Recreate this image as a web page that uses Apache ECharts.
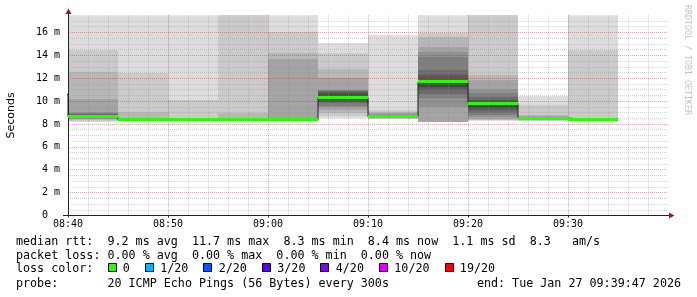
<!DOCTYPE html>
<html><head><meta charset="utf-8">
<script src="https://cdn.jsdelivr.net/npm/echarts@6/dist/echarts.min.js"></script>
<style>html,body{margin:0;padding:0;background:#fff}#c{width:697px;height:297px}</style>
</head><body><div id="c"></div>
<script>
// ---- data (time = minutes since midnight, values in ms) ----
const binStart = [515, 520, 525, 530, 535, 540, 545, 550, 555, 560, 565, 570];
const binMinutes = 5;
const median = [10.6, 8.62, 8.35, 8.35, 8.35, 8.35, 10.3, 8.63, 11.68, 9.8, 8.5, 8.38];
const lossIdx = [0, 0, 0, 0, 0, 0, 0, 0, 0, 0, 0, 0];
// 20 sorted ping times per 5-minute bin
const ping0835 = [8.4, 8.6, 8.9, 9.3, 9.7, 10.0, 10.2, 10.4, 10.5, 10.55, 10.65, 10.8, 11.0, 11.2, 11.5, 11.9, 12.3, 12.7, 14.4, 20.0];
const ping0840 = [8.2, 8.3, 8.35, 8.4, 8.45, 8.5, 8.55, 8.58, 8.6, 8.62, 8.65, 8.72, 8.8, 8.9, 9.0, 9.07, 10.15, 12.56, 14.45, 20.0];
const ping0845 = [8.25, 8.27, 8.28, 8.29, 8.3, 8.31, 8.32, 8.33, 8.34, 8.35, 8.36, 8.37, 8.38, 8.4, 8.42, 8.45, 8.49, 9.07, 12.5, 20.0];
const ping0850 = [8.25, 8.27, 8.28, 8.29, 8.3, 8.31, 8.32, 8.33, 8.34, 8.35, 8.36, 8.37, 8.38, 8.39, 8.4, 8.42, 8.45, 8.5, 10.1, 20.0];
const ping0855 = [8.25, 8.27, 8.28, 8.29, 8.3, 8.31, 8.32, 8.33, 8.34, 8.35, 8.36, 8.37, 8.38, 8.39, 8.4, 8.42, 8.5, 9.0, 19.0, 20.0];
const ping0900 = [8.25, 8.27, 8.28, 8.29, 8.3, 8.31, 8.32, 8.33, 8.34, 8.35, 8.36, 8.37, 8.38, 8.39, 8.4, 8.42, 13.67, 14.17, 16.05, 20.0];
const ping0905 = [8.49, 8.7, 8.93, 9.2, 9.45, 9.6, 9.8, 9.95, 10.1, 10.22, 10.45, 10.65, 10.8, 10.9, 10.94, 10.96, 11.98, 12.8, 14.2, 15.1];
const ping0910 = [8.4, 8.45, 8.48, 8.5, 8.52, 8.54, 8.56, 8.58, 8.6, 8.62, 8.65, 8.67, 8.69, 8.72, 8.78, 8.85, 8.95, 9.05, 9.2, 15.76];
const ping0915 = [8.15, 8.16, 8.18, 8.2, 9.5, 10.24, 10.6, 10.96, 11.2, 11.6, 11.75, 11.83, 12.27, 12.7, 13.87, 14.3, 14.74, 15.6, 15.97, 20.0];
const ping0920 = [8.3, 8.32, 8.34, 8.4, 8.6, 8.78, 9.0, 9.2, 9.4, 9.7, 9.85, 9.95, 10.1, 10.38, 10.67, 11.1, 11.83, 12.27, 19.0, 20.0];
const ping0925 = [8.28, 8.3, 8.33, 8.36, 8.4, 8.43, 8.46, 8.48, 8.49, 8.5, 8.52, 8.54, 8.56, 8.58, 8.6, 8.65, 8.7, 8.78, 9.65, 10.46];
const ping0930 = [8.28, 8.29, 8.3, 8.31, 8.32, 8.33, 8.34, 8.35, 8.36, 8.37, 8.38, 8.39, 8.4, 8.41, 8.42, 8.43, 8.44, 8.46, 14.5, 20.0];
const pings = [ping0835, ping0840, ping0845, ping0850, ping0855, ping0900, ping0905, ping0910, ping0915, ping0920, ping0925, ping0930];

const lossLabels = ['0', '1/20', '2/20', '3/20', '4/20', '10/20', '19/20'];
const lossColors = ['#26ff00', '#00b8ff', '#0059ff', '#5e00ff', '#7e00ff', '#dd00ff', '#ff0000'];
const rttStats = ['9.2', '11.7', '8.3', '8.4', '1.1', '8.3'];
const lossStats = ['0.00', '0.00', '0.00', '0.00'];
const probeText = '20 ICMP Echo Pings (56 Bytes) every 300s';
const endText = 'Tue Jan 27 09:39:47 2026';

// ---- layout ----
const G = {left: 68, right: 29, top: 15.3, bottom: 81.5};
const W = 697, H = 297;
const mono = 'DejaVu Sans Mono';
const minorGrid = {color: 'rgba(140,140,140,0.38)', type: [1, 1], width: 1};
const majorGrid = {color: 'rgba(150,30,30,0.38)', type: [1, 1], width: 1};

const smokeRects = [];
pings.forEach((p, b) => {
  const n = p.length, half = n / 2;
  for (let i = 0; i < half; i++) {
    smokeRects.push([binStart[b], binStart[b] + binMinutes, p[i], p[n - 1 - i], i, half]);
  }
});
const medianPts = binStart.map((t, i) => [t, median[i]]);
medianPts.push([binStart[binStart.length - 1] + binMinutes, median[median.length - 1]]);
const bandData = binStart.map((t, i) => [t, t + binMinutes, median[i], lossIdx[i]]);

function clipTo(params, x0, y0, x1, y1) {
  return echarts.graphic.clipRectByRect(
    {x: Math.round(x0), y: Math.round(y0), width: Math.round(x1) - Math.round(x0), height: Math.round(y1) - Math.round(y0)},
    {x: params.coordSys.x, y: params.coordSys.y, width: params.coordSys.width, height: params.coordSys.height});
}

const hhmm = v => String(Math.floor(v / 60)).padStart(2, '0') + ':' + String(v % 60).padStart(2, '0');

const chart = echarts.init(document.getElementById('c'), null, {renderer: 'canvas'});

const graphics = [];
const txt = (x, y, s, extra) => graphics.push(Object.assign({type: 'text', x: x, y: y,
  style: Object.assign({text: s, font: '11.7px "' + mono + '"', fill: '#000', textVerticalAlign: 'middle', verticalAlign: 'middle'}, extra || {})}));
const lineY = [241.8, 255.8, 269.2, 283.5];
txt(16, lineY[0], 'median rtt:  ' + rttStats[0] + ' ms avg  ' + rttStats[1] + ' ms max  ' + rttStats[2] + ' ms min  ' +
  rttStats[3] + ' ms now  ' + rttStats[4] + ' ms sd  ' + rttStats[5] + '   am/s');
txt(16, lineY[1], 'packet loss: ' + lossStats[0] + ' % avg  ' + lossStats[1] + ' % max  ' + lossStats[2] + ' % min  ' + lossStats[3] + ' % now');
txt(16, lineY[2], 'loss color:');
let lx = 107.5;
lossLabels.forEach((lab, i) => {
  graphics.push({type: 'rect', shape: {x: Math.round(lx) + 0.5, y: 263.5, width: 8, height: 8},
    style: {fill: lossColors[i], stroke: '#000', lineWidth: 1}});
  txt(lx + 15.3, lineY[2], lab);
  lx = lx + 15.3 + lab.length * 7.03 + 15.1;
});
txt(16, lineY[3], 'probe:       ' + probeText);
txt(681, lineY[3], 'end: ' + endText, {textAlign: 'right', align: 'right'});
// rrdtool watermark
graphics.push({type: 'text', x: 687.5, y: 60, rotation: -Math.PI / 2,
  style: {text: 'RRDTOOL / TOBI OETIKER', font: '8.3px "' + mono + '"', fill: '#c4c4c4', textAlign: 'center', align: 'center', textVerticalAlign: 'middle', verticalAlign: 'middle'}});
// axis arrows
const gx0 = G.left, gy0 = H - G.bottom, gx1 = W - G.right;
graphics.push({type: 'line', shape: {x1: gx0 + 0.5, y1: G.top, x2: gx0 + 0.5, y2: 12}, style: {stroke: '#222', lineWidth: 1}});
graphics.push({type: 'polygon', shape: {points: [[gx0 - 2.5, 14], [gx0 + 3.5, 14], [gx0 + 0.5, 8.5]]}, style: {fill: '#9b1c1c'}});
graphics.push({type: 'line', shape: {x1: gx1, y1: Math.floor(gy0) + 0.5, x2: gx1 + 2, y2: Math.floor(gy0) + 0.5}, style: {stroke: '#222', lineWidth: 1}});
graphics.push({type: 'polygon', shape: {points: [[gx1 + 1, gy0 - 3], [gx1 + 1, gy0 + 3], [gx1 + 6.5, gy0]]}, style: {fill: '#9b1c1c'}});
graphics.push({type: 'line', shape: {x1: gx0 - 5, y1: Math.floor(gy0) + 0.5, x2: gx0, y2: Math.floor(gy0) + 0.5}, style: {stroke: '#222', lineWidth: 1}});

chart.setOption({
  animation: false,
  backgroundColor: '#ffffff',
  grid: {left: G.left, right: G.right, top: G.top, bottom: G.bottom, containLabel: false, outerBoundsMode: 'none'},
  xAxis: {
    type: 'value', min: 520, max: 580, interval: 10, z: 3,
    axisLine: {show: true, onZero: false, lineStyle: {color: '#222', width: 1}},
    axisTick: {show: true, length: 2, inside: false, lineStyle: {color: '#222'}},
    minorTick: {show: false, splitNumber: 5},
    axisLabel: {formatter: v => hhmm(v), showMaxLabel: false, fontFamily: mono, fontSize: 10, color: '#000', margin: 4},
    splitLine: {show: true, showMinLine: false, showMaxLine: false, lineStyle: majorGrid},
    minorSplitLine: {show: true, lineStyle: minorGrid}
  },
  yAxis: {
    type: 'value', min: 0, max: 17.5, interval: 2, z: 3,
    name: 'Seconds', nameLocation: 'middle', nameRotate: 90, nameGap: 51,
    nameTextStyle: {fontFamily: 'DejaVu Sans', fontSize: 11, color: '#000'},
    axisLine: {show: true, lineStyle: {color: '#222', width: 1}},
    axisTick: {show: false},
    minorTick: {show: false, splitNumber: 4},
    axisLabel: {formatter: v => (v === 0 ? '0  ' : (v % 2 === 0 ? v + ' m' : '')), fontFamily: mono, fontSize: 10, color: '#000', margin: 8},
    splitLine: {show: true, showMinLine: false, showMaxLine: false, lineStyle: majorGrid},
    minorSplitLine: {show: true, lineStyle: minorGrid}
  },
  series: [
    {
      type: 'custom', name: 'smoke', z: 2, silent: true,
      encode: {x: [0, 1], y: [2, 3]},
      data: smokeRects,
      renderItem: (params, api) => {
        const a = api.coord([api.value(0), api.value(3)]);
        const b = api.coord([api.value(1), api.value(2)]);
        const shape = clipTo(params, a[0], a[1], b[0], b[1]);
        if (!shape || shape.width <= 0 || shape.height <= 0) return null;
        const half = api.value(5), i = api.value(4);
        const c = Math.floor(190 / half * (half - (i + 1))) + 50;
        return {type: 'rect', shape: shape, style: {fill: 'rgb(' + c + ',' + c + ',' + c + ')'}};
      }
    },
    {
      type: 'line', name: 'median', z: 4, silent: true, step: 'end', showSymbol: false, symbol: 'none',
      data: medianPts, clip: true,
      lineStyle: {color: '#202020', width: 1}
    },
    {
      type: 'custom', name: 'loss', z: 5, silent: true,
      encode: {x: [0, 1], y: 2},
      data: bandData,
      renderItem: (params, api) => {
        const a = api.coord([api.value(0), api.value(2)]);
        const b = api.coord([api.value(1), api.value(2)]);
        const shape = clipTo(params, a[0], a[1] - 1.5, b[0], a[1] + 1.5);
        if (!shape || shape.width <= 0) return null;
        return {type: 'rect', shape: shape, style: {fill: lossColors[api.value(3)]}};
      }
    }
  ],
  graphic: graphics
});
</script></body></html>
